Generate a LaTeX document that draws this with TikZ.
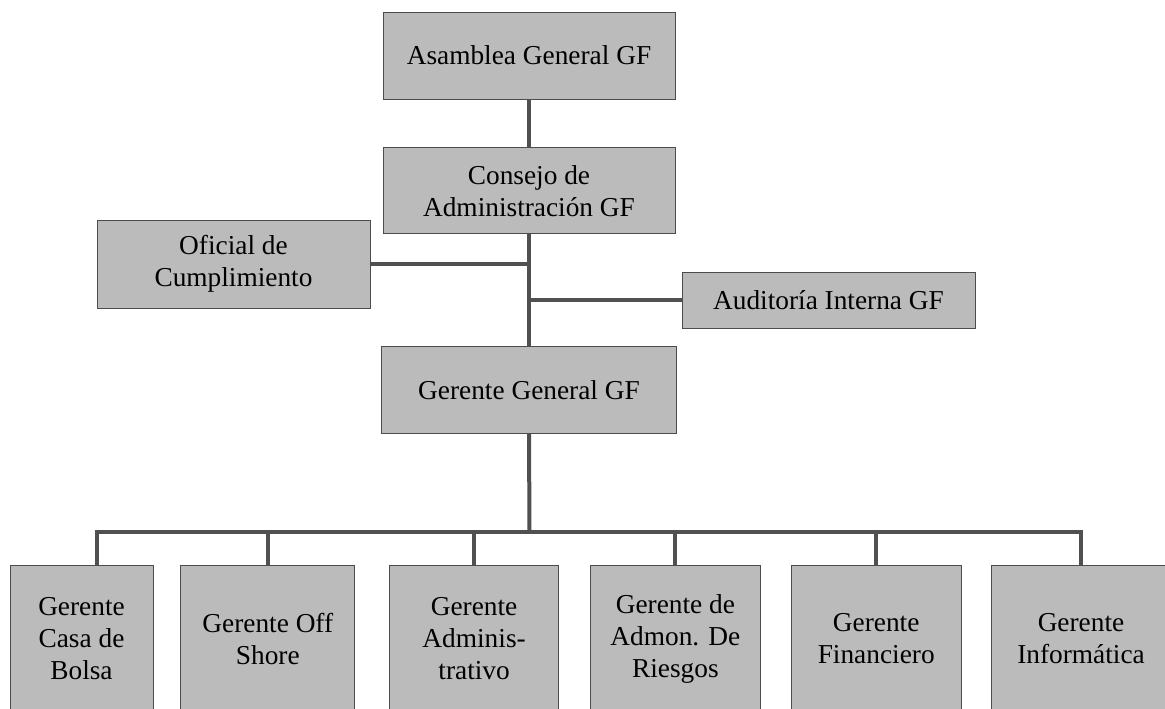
\documentclass[tikz,border=0pt]{standalone}
\usepackage{fontspec}
\setmainfont{Liberation Serif}
\usepackage{tikz}
\usetikzlibrary{positioning}
\definecolor{boxgray}{HTML}{BBBBBB}
\definecolor{linkgray}{HTML}{505050}

\begin{document}
\begin{tikzpicture}[x=0.75pt,y=-0.75pt,
      org box/.style={rectangle,draw=black!70,line width=0.6pt,fill=boxgray,align=center,
        font=\fontsize{20.5}{24}\selectfont,inner sep=2pt},
      low box/.style={org box,minimum height=110.25pt},
      link/.style={draw=linkgray,line width=3pt}]
      \useasboundingbox (0,0) rectangle (1165,708);

      \node[org box,minimum width=219pt,minimum height=65.25pt] (asam) at (529,55.5) {Asamblea General GF};
      \node[org box,minimum width=219pt,minimum height=64.5pt] (cons) [below=36pt of asam] {Consejo de\\Administración GF};
      \node[org box,minimum width=221pt,minimum height=65.25pt] (gg) [below=84pt of cons] {Gerente General GF};
      \node[org box,minimum width=204.75pt,minimum height=66pt] (ofc) at (233.5,264) {Oficial de\\Cumplimiento};
      \node[org box,minimum width=219.75pt,minimum height=42pt] (aud) at (828.5,300) {Auditoría Interna GF};

      \node[low box,minimum width=107.25pt] (cb) at (81.5,638.5) {Gerente\\Casa de\\Bolsa};
      \node[low box,minimum width=130.5pt] (off) [right=20.25pt of cb] {Gerente Off\\Shore};
      \node[low box,minimum width=126.75pt] (adm) [right=25.5pt of off] {Gerente\\Adminis-\\trativo};
      \node[low box,minimum width=127.5pt] (rie) [right=23.25pt of adm] {Gerente de\\Admon. De\\Riesgos};
      \node[low box,minimum width=127.5pt] (fin) [right=22.5pt of rie] {Gerente\\Financiero};
      \node[low box,minimum width=135pt] (inf) [right=21.75pt of fin] {Gerente\\Informática};

      \coordinate (bus) at (529.5,532);

      \draw[link] (asam) -- (cons);
      \draw[link] (cons) -- (gg);
      \draw[link] (ofc.east) -- (ofc.east -| cons.south);
      \draw[link] (aud.west) -- (aud.west -| cons.south);
      \draw[link] (gg.south) -- (bus);
      \draw[link] ([xshift=11.6pt]cb.north) |- (bus) -| (inf.north);
      \foreach \n in {off,adm,rie,fin}
        \draw[link] (\n.north) -- (\n.north |- bus);
    \end{tikzpicture}
\end{document}
